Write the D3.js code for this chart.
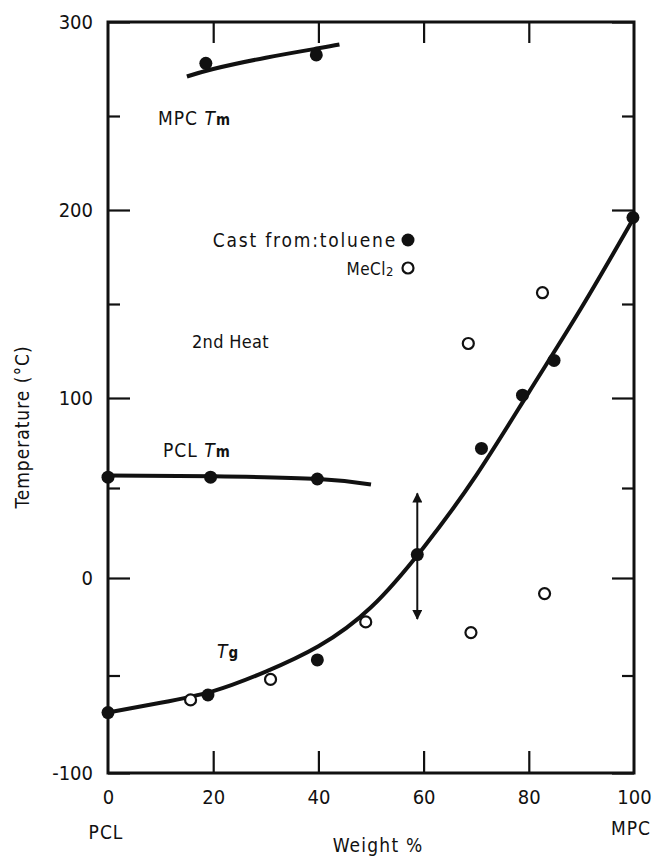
<!DOCTYPE html>
<html>
<head>
<meta charset="utf-8">
<script src="https://cdn.jsdelivr.net/npm/d3@7"></script>
<style>
  body { margin: 0; background: #fff; }
  svg text { font-family: "DejaVu Sans Condensed", "DejaVu Sans", sans-serif; font-size: 19px; letter-spacing: 1px; fill: #111; }
</style>
</head>
<body>
<svg width="652" height="858"></svg>
<script>
// x ticks and y ticks
var xTicks = [0, 20, 40, 60, 80, 100];
var yMajor = [-100, 0, 100, 200, 300];
var yMinor = [-50, 50, 150, 250];

// filled points (cast from toluene)
var pclTm = [[0, 56], [19.5, 56], [39.8, 55]];
var mpcTm = [[18.6, 278], [39.6, 282.5]];
var tgToluene = [[0, -69], [19, -60], [39.8, -42], [58.8, 13], [71, 72], [78.8, 101.5], [84.8, 120], [99.8, 196]];
// open points (MeCl2)
var tgMeCl2 = [[15.7, -62.5], [30.9, -52], [49, -22.5], [69, -28], [83, -8], [68.5, 129], [82.6, 156]];

// hand-drawn fit curves
var pclTmLine = [[0, 57], [20, 56.5], [40, 55], [50, 52]];
var mpcTmLine = [[15, 271], [20, 275], [30, 281], [40, 286], [44, 288]];
var tgLine = [[0, -69], [10, -64], [20, -58], [30, -48], [40, -35], [50, -15], [60, 17], [70, 57], [80, 103], [90, 148], [100, 196]];

// range of Tg at 60 %
var tgRange = [58.8, -21, 47];

var svg = d3.select("svg");
var x = d3.scaleLinear().domain([0, 100]).range([108, 634]);
var y = d3.scaleLinear().domain([-100, 0, 100, 200, 300]).range([773, 578, 398, 210, 22]);
var fmt = function(d){ return String(d); };

// inward ticks
var leftAx = svg.append("g").attr("transform", "translate(108,0)");
leftAx.call(d3.axisLeft(y).tickValues(yMajor).tickSize(-22).tickPadding(15).tickFormat(fmt));
leftAx.append("g").call(d3.axisLeft(y).tickValues(yMinor).tickSize(-12).tickFormat(""));
var rightAx = svg.append("g").attr("transform", "translate(634,0)");
rightAx.call(d3.axisRight(y).tickValues(yMajor).tickSize(-22).tickFormat(""));
rightAx.append("g").call(d3.axisRight(y).tickValues(yMinor).tickSize(-12).tickFormat(""));
var bottomAx = svg.append("g").attr("transform", "translate(0,773)");
bottomAx.call(d3.axisBottom(x).tickValues(xTicks).tickSize(-22).tickPadding(17).tickFormat(fmt));
var topAx = svg.append("g").attr("transform", "translate(0,22)");
topAx.call(d3.axisTop(x).tickValues(xTicks).tickSize(-21).tickFormat(""));

svg.selectAll(".domain").remove();
svg.selectAll(".tick line").attr("stroke", "#111").attr("stroke-width", 2.2);
svg.selectAll(".tick text").attr("fill", "#111")
   .style("font-size", "20px").style("letter-spacing", "0px")
   .style("font-family", "\"DejaVu Sans Condensed\", \"DejaVu Sans\", sans-serif");
// end ticks on x axis sit on the frame
bottomAx.selectAll(".tick line").filter(function(d){ return d == 0 || d == 100; }).remove();
topAx.selectAll(".tick line").filter(function(d){ return d == 0 || d == 100; }).remove();

svg.append("rect")
    .attr("x", x(0)).attr("y", y(300))
    .attr("width", x(100) - x(0)).attr("height", y(-100) - y(300))
    .attr("fill", "none").attr("stroke", "#111").attr("stroke-width", 3);

var line = d3.line().x(function(d){ return x(d[0]); }).y(function(d){ return y(d[1]); }).curve(d3.curveNatural);
[pclTmLine, mpcTmLine, tgLine].forEach(function(l){
    svg.append("path").attr("d", line(l))
        .attr("fill", "none").attr("stroke", "#111").attr("stroke-width", 4);
});

// arrow
svg.append("defs").append("marker")
    .attr("id", "ah").attr("viewBox", "0 0 10 10").attr("refX", 9).attr("refY", 5)
    .attr("markerWidth", 7.5).attr("markerHeight", 5).attr("markerUnits", "strokeWidth")
    .attr("orient", "auto-start-reverse")
    .append("path").attr("d", "M0,0 L10,5 L0,10 Z").attr("fill", "#111");
svg.append("line")
    .attr("x1", x(tgRange[0])).attr("x2", x(tgRange[0]))
    .attr("y1", y(tgRange[1])).attr("y2", y(tgRange[2]))
    .attr("stroke", "#111").attr("stroke-width", 2)
    .attr("marker-start", "url(#ah)").attr("marker-end", "url(#ah)");

svg.selectAll("circle.fill")
    .data(pclTm.concat(mpcTm, tgToluene))
    .enter().append("circle").attr("class", "fill")
    .attr("cx", function(d){ return x(d[0]); })
    .attr("cy", function(d){ return y(d[1]); })
    .attr("r", 6.5).attr("fill", "#111");
svg.selectAll("circle.open")
    .data(tgMeCl2)
    .enter().append("circle").attr("class", "open")
    .attr("cx", function(d){ return x(d[0]); })
    .attr("cy", function(d){ return y(d[1]); })
    .attr("r", 5.5).attr("fill", "#fff").attr("stroke", "#111").attr("stroke-width", 2.2);

// legend
svg.append("text").attr("x", 397).attr("y", 247).attr("text-anchor", "end")
    .style("letter-spacing", "1.8px").text("Cast from:toluene");
svg.append("circle").attr("cx", 408).attr("cy", 240).attr("r", 6.5).attr("fill", "#111");
var mc = svg.append("text").attr("x", 394).attr("y", 275).attr("text-anchor", "end")
    .style("font-size", "17px").style("letter-spacing", "0.5px");
mc.append("tspan").text("MeCl");
mc.append("tspan").attr("dy", 1).style("font-size", "13px").text("2");
svg.append("circle").attr("cx", 408).attr("cy", 268).attr("r", 5.5)
    .attr("fill", "#fff").attr("stroke", "#111").attr("stroke-width", 2.2);

// labels
function tmLabel(px, py, name, sub){
    var t = svg.append("text").attr("x", px).attr("y", py);
    if (name) t.append("tspan").text(name + "  ");
    t.append("tspan").style("font-style", "italic").text("T");
    t.append("tspan").style("font-size", "15px").style("font-weight", "bold").text(sub);
}
tmLabel(158, 125, "MPC", "m");
tmLabel(163, 457, "PCL", "m");
tmLabel(217, 658, "", "g");
svg.append("text").attr("x", 192).attr("y", 348).style("font-size", "18px").style("letter-spacing", "0.3px").text("2nd Heat");
svg.append("text").attr("x", 106).attr("y", 839).attr("text-anchor", "middle").text("PCL");
svg.append("text").attr("x", 651).attr("y", 835).attr("text-anchor", "end").text("MPC");
svg.append("text").attr("x", 378).attr("y", 852).attr("text-anchor", "middle")
    .style("letter-spacing", "1.2px").text("Weight  %");
svg.append("text").attr("transform", "translate(29,427) rotate(-90)")
    .attr("text-anchor", "middle").text("Temperature (\u00b0C)");
</script>
</body>
</html>
